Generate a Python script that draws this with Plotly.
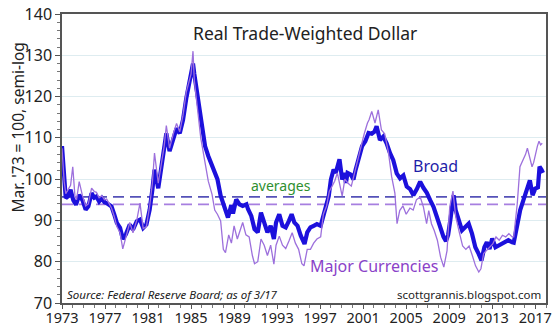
import plotly.graph_objects as go

# Broad real trade-weighted dollar index (Mar. '73 = 100)
broad_years = [
    1973.0, 1973.1, 1973.2, 1973.35, 1973.55, 1973.8, 1974.05, 1974.3, 1974.6, 1974.9,
    1975.2, 1975.45, 1975.75, 1976.0, 1976.2, 1976.45, 1976.7, 1976.95, 1977.15, 1977.4,
    1977.6, 1977.85, 1978.1, 1978.4, 1978.65, 1978.95, 1979.3, 1979.6, 1979.95, 1980.25,
    1980.55, 1980.85, 1981.15, 1981.4, 1981.6, 1981.95, 1982.25, 1982.5, 1982.7, 1983.0,
    1983.35, 1983.65, 1983.95, 1984.25, 1984.55, 1984.85, 1985.0, 1985.18, 1985.3, 1985.6,
    1985.9, 1986.3, 1986.6, 1987.0, 1987.2, 1987.45, 1987.75, 1987.95, 1988.12, 1988.43,
    1988.74, 1988.9, 1989.2, 1989.5, 1989.8, 1990.15, 1990.3, 1990.6, 1990.9, 1991.2,
    1991.5, 1991.8, 1992.1, 1992.4, 1992.7, 1992.9, 1993.2, 1993.5, 1993.8, 1994.1,
    1994.35, 1994.6, 1994.9, 1995.2, 1995.55, 1995.8, 1996.1, 1996.4, 1996.7, 1997.05,
    1997.2, 1997.5, 1997.8, 1998.0, 1998.25, 1998.45, 1998.8, 1999.05, 1999.25, 1999.4,
    1999.55, 1999.85, 2000.1, 2000.3, 2000.6, 2000.9, 2001.2, 2001.5, 2001.8, 2002.05,
    2002.25, 2002.56, 2002.87, 2003.18, 2003.5, 2003.8, 2004.12, 2004.43, 2004.74, 2005.05,
    2005.36, 2005.67, 2005.99, 2006.3, 2006.6, 2006.92, 2007.23, 2007.54, 2007.85, 2008.16,
    2008.47, 2008.7, 2008.9, 2009.1, 2009.25, 2009.41, 2009.6, 2009.88, 2010.19, 2010.5,
    2010.81, 2011.12, 2011.43, 2011.74, 2012.0, 2012.27, 2012.5, 2012.75, 2013.0, 2013.3,
    2013.6, 2013.9, 2014.2, 2014.5, 2014.86, 2015.0, 2015.17, 2015.37, 2015.6, 2015.9,
    2016.1, 2016.3, 2016.5, 2016.75, 2017.0, 2017.25, 2017.4, 2017.6, 2017.72,
]
broad_values = [
    108.0, 104.0, 100.6, 95.4, 95.8, 97.4, 94.9, 93.8, 96.2, 94.9,
    92.6, 93.4, 96.6, 95.5, 95.8, 94.6, 95.4, 94.4, 94.2, 93.6,
    93.4, 91.5, 89.4, 88.2, 85.5, 86.7, 89.0, 87.8, 89.8, 90.2,
    88.2, 89.0, 92.6, 97.4, 102.3, 97.8, 103.0, 107.1, 111.1, 106.8,
    110.3, 112.3, 111.1, 114.3, 119.5, 123.5, 124.5, 128.0, 125.5, 120.0,
    114.4, 108.0, 105.6, 103.2, 101.5, 100.0, 96.0, 94.3, 93.5, 90.7,
    93.7, 91.7, 95.1, 93.9, 93.5, 93.9, 92.7, 91.1, 87.9, 87.1,
    91.9, 89.5, 87.1, 88.7, 85.5, 89.5, 91.5, 88.7, 88.3, 89.9,
    91.5, 89.5, 88.7, 86.3, 84.3, 87.1, 88.3, 88.7, 89.1, 88.7,
    90.3, 93.5, 95.9, 99.9, 102.3, 101.5, 104.8, 99.9, 101.5, 99.1,
    101.5, 101.1, 99.9, 102.3, 105.6, 108.0, 109.2, 111.2, 111.0, 111.5,
    112.8, 109.5, 110.3, 108.7, 106.3, 104.6, 101.4, 100.2, 100.9, 98.2,
    97.6, 96.1, 97.6, 99.4, 97.9, 96.7, 94.9, 93.3, 90.9, 88.4,
    86.0, 85.0, 86.5, 90.0, 94.0, 96.1, 92.5, 90.0, 87.6, 88.4,
    89.2, 86.8, 83.5, 81.9, 80.3, 83.5, 84.7, 83.1, 85.6, 83.5,
    84.0, 84.3, 84.7, 85.2, 84.7, 84.6, 86.8, 90.0, 92.5, 94.9,
    96.5, 98.1, 99.7, 96.1, 97.7, 98.0, 103.0, 102.2, 101.5,
]

# Major-currencies real trade-weighted dollar index
major_years = [
    1973.0, 1973.1, 1973.2, 1973.35, 1973.55, 1973.8, 1974.0, 1974.2, 1974.35, 1974.6,
    1974.9, 1975.2, 1975.45, 1975.75, 1976.0, 1976.2, 1976.45, 1976.7, 1976.95, 1977.15,
    1977.4, 1977.6, 1977.85, 1978.1, 1978.4, 1978.65, 1978.95, 1979.3, 1979.6, 1979.95,
    1980.25, 1980.55, 1980.85, 1981.15, 1981.4, 1981.6, 1981.95, 1982.25, 1982.5, 1982.7,
    1983.0, 1983.35, 1983.65, 1983.95, 1984.25, 1984.55, 1984.85, 1985.0, 1985.18, 1985.3,
    1985.6, 1985.9, 1986.3, 1986.6, 1986.95, 1987.2, 1987.45, 1987.75, 1988.0, 1988.2,
    1988.5, 1988.75, 1989.0, 1989.3, 1989.55, 1989.8, 1990.1, 1990.4, 1990.7, 1990.9,
    1991.2, 1991.5, 1991.8, 1992.1, 1992.4, 1992.7, 1992.9, 1993.2, 1993.5, 1993.8,
    1994.1, 1994.4, 1994.7, 1995.0, 1995.3, 1995.5, 1995.8, 1996.1, 1996.4, 1996.7,
    1997.05, 1997.3, 1997.6, 1997.85, 1998.05, 1998.35, 1998.6, 1999.05, 1999.3, 1999.6,
    1999.9, 2000.2, 2000.5, 2000.8, 2001.1, 2001.4, 2001.55, 2001.8, 2002.1, 2002.4,
    2002.7, 2003.0, 2003.35, 2003.65, 2003.95, 2004.15, 2004.4, 2004.7, 2005.0, 2005.35,
    2005.65, 2005.95, 2006.3, 2006.6, 2006.9, 2007.1, 2007.35, 2007.6, 2007.9, 2008.2,
    2008.5, 2008.8, 2009.05, 2009.35, 2009.6, 2009.95, 2010.25, 2010.55, 2010.85, 2011.15,
    2011.45, 2011.75, 2011.95, 2012.2, 2012.45, 2012.75, 2013.05, 2013.35, 2013.65, 2013.95,
    2014.25, 2014.55, 2014.85, 2015.0, 2015.33, 2015.58, 2015.9, 2016.1, 2016.27, 2016.5,
    2016.7, 2016.85, 2017.03, 2017.2, 2017.35, 2017.5, 2017.65,
]
major_values = [
    107.5, 103.0, 99.5, 96.5, 97.5, 98.5, 103.0, 96.0, 95.0, 99.4,
    96.0, 93.5, 94.0, 97.8, 97.0, 96.8, 95.5, 96.0, 95.0, 95.2,
    94.0, 93.0, 91.0, 88.5, 87.0, 83.1, 86.0, 89.5, 87.0, 90.0,
    94.2, 88.0, 88.5, 93.5, 99.0, 106.3, 99.0, 104.0, 108.0, 113.0,
    107.5, 111.0, 113.5, 111.5, 115.5, 121.0, 124.0, 125.5, 131.0, 124.0,
    117.0, 110.0, 104.0, 99.5, 96.3, 92.5, 91.5, 89.9, 83.0, 82.2,
    86.5, 84.5, 88.7, 85.5, 87.5, 89.5, 86.5, 86.0, 81.5, 79.5,
    80.0, 85.5, 84.0, 81.5, 84.0, 79.4, 84.0, 86.2, 84.0, 83.2,
    85.0, 87.0, 84.5, 83.0, 79.5, 79.0, 83.0, 83.0, 84.5, 85.5,
    86.0, 91.5, 93.5, 97.0, 98.0, 99.5, 101.5, 95.9, 100.0, 99.0,
    98.3, 101.5, 105.0, 108.0, 111.0, 113.6, 114.4, 116.4, 113.6, 116.8,
    111.9, 111.0, 106.5, 100.6, 96.6, 89.2, 92.4, 93.5, 91.5, 93.0,
    92.5, 95.0, 95.7, 93.3, 89.2, 92.4, 89.2, 87.6, 85.2, 81.1,
    78.7, 82.7, 93.3, 97.1, 91.0, 87.0, 83.8, 83.0, 83.8, 81.5,
    79.0, 77.5, 78.3, 82.0, 82.7, 83.5, 84.3, 86.0, 85.2, 86.4,
    86.0, 86.8, 86.0, 86.0, 94.1, 103.0, 104.7, 106.0, 107.5, 104.7,
    103.0, 104.0, 106.3, 108.0, 109.2, 108.3, 108.7,
]

# Long-run averages of each index
broad_average = 95.7
major_average = 93.9

x_range = [1973, 2018]
y_range = [70, 140]
x_ticks = [1973, 1977, 1981, 1985, 1989, 1993, 1997, 2001, 2005, 2009, 2013, 2017]
y_ticks = [70, 80, 90, 100, 110, 120, 130, 140]

FONT = "Noto Sans"
BROAD_COLOR = "#1c10dc"
MAJOR_COLOR = "#9d70dc"

fig = go.Figure()

# dashed average lines
fig.add_trace(go.Scatter(
    x=x_range, y=[broad_average, broad_average], mode="lines",
    line=dict(color="#5552b8", width=1.6, dash="11px,6px"), hoverinfo="skip",
))
fig.add_trace(go.Scatter(
    x=x_range, y=[major_average, major_average], mode="lines",
    line=dict(color="#a77fe0", width=1.6, dash="11px,6px"), hoverinfo="skip",
))

fig.add_trace(go.Scatter(
    x=broad_years, y=broad_values, mode="lines",
    line=dict(color=BROAD_COLOR, width=4.2),
))
fig.add_trace(go.Scatter(
    x=major_years, y=major_values, mode="lines",
    line=dict(color=MAJOR_COLOR, width=1.3),
))

annotations = [
    dict(text="Real Trade-Weighted Dollar", x=0.503, y=0.934, xref="paper", yref="paper",
         xanchor="center", yanchor="middle",
         showarrow=False, font=dict(size=17.5, color="#222222")),
    dict(text="Mar. '73 = 100, semi-log", x=-0.091, y=0.607, xref="paper", yref="paper",
         xanchor="center", yanchor="middle",
         textangle=-90, showarrow=False, font=dict(size=15.5, color="#222222")),
    dict(text="averages", x=1993.4, y=98.4, showarrow=False,
         font=dict(size=14, color="#2f8f2f")),
    dict(text="Broad", x=2007.7, y=103.2, showarrow=False,
         font=dict(size=16, color="#1e1ea8")),
    dict(text="Major Currencies", x=2002.0, y=79.0, showarrow=False,
         font=dict(size=16, color="#8a42c8")),
    dict(text="<i>Source: Federal Reserve Board; as of 3/17</i>", x=1973.3, y=72.0,
         xanchor="left", showarrow=False, font=dict(size=11.5, color="#222222")),
    dict(text="scottgrannis.blogspot.com", x=2017.7, y=72.0, xanchor="right",
         showarrow=False, font=dict(size=11.5, color="#222222")),
]

fig.update_layout(
    width=558, height=327,
    margin=dict(l=62, r=12, t=14, b=24),
    paper_bgcolor="white", plot_bgcolor="white",
    showlegend=False,
    font=dict(family=FONT, color="#222222"),
    annotations=annotations,
)
fig.update_xaxes(
    range=x_range, tickvals=x_ticks, showgrid=False, zeroline=False, automargin=False,
    showline=True, linecolor="#555555", linewidth=1.5, mirror=True,
    ticks="outside", ticklen=4, tickcolor="#555555", ticklabelstandoff=-3,
    minor=dict(dtick=1, ticks="outside", ticklen=3, tickcolor="#777777"),
    tickfont=dict(size=14.5, color="#222222"),
)
fig.update_yaxes(
    range=y_range, tickvals=y_ticks, showgrid=True, gridcolor="#deecf0", gridwidth=1,
    zeroline=False, automargin=False,
    showline=True, linecolor="#555555", linewidth=1.5, mirror=True,
    ticks="outside", ticklen=5, tickcolor="#555555",
    minor=dict(dtick=2, ticks="outside", ticklen=3, tickcolor="#777777", showgrid=False),
    tickfont=dict(size=16, color="#222222"),
)

fig.write_html("out.html")
